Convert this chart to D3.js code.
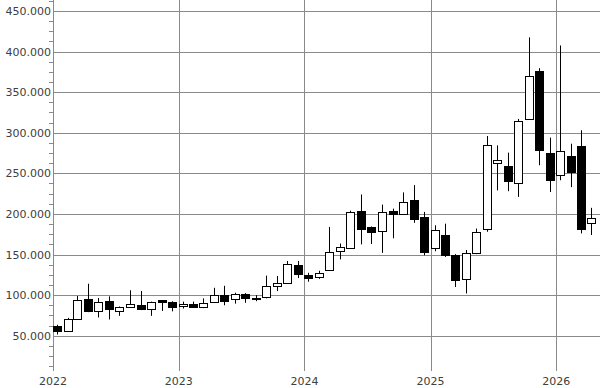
<!DOCTYPE html>
<html>
<head>
<meta charset="utf-8">
<script src="https://cdn.jsdelivr.net/npm/d3@7"></script>
<style>
  html, body { margin: 0; padding: 0; background: #fff; }
  svg { display: block; }
  text { font-family: "DejaVu Sans", Verdana, sans-serif; font-size: 11px; fill: #404040; }
</style>
</head>
<body>
<svg id="chart" width="600" height="388"></svg>
<script>
// ---- data ----
const months = ["2022-01","2022-02","2022-03","2022-04","2022-05","2022-06","2022-07","2022-08","2022-09","2022-10","2022-11","2022-12",
  "2023-01","2023-02","2023-03","2023-04","2023-05","2023-06","2023-07","2023-08","2023-09","2023-10","2023-11","2023-12",
  "2024-01","2024-02","2024-03","2024-04","2024-05","2024-06","2024-07","2024-08","2024-09","2024-10","2024-11","2024-12",
  "2025-01","2025-02","2025-03","2025-04","2025-05","2025-06","2025-07","2025-08","2025-09","2025-10","2025-11","2025-12",
  "2026-01","2026-02","2026-03","2026-04"];
const openV  = [62000,56000,70500,95000,80000,93000,80500,85500,87500,83500,93500,91000,
  87000,88500,85000,92000,100000,95000,101500,95000,98000,111000,115000,137000,
  125000,122500,131000,154500,158000,204000,183500,179000,204000,199500,217000,196500,
  157500,174000,149000,119500,152000,182000,262500,259000,238500,317500,375500,274500,
  247500,271500,283500,189000];
const highV  = [63500,72000,99000,114000,96500,98500,86000,106000,105000,92000,94000,92500,
  92000,92000,96000,109000,111500,103000,102500,100000,124000,123500,142000,142000,
  127500,130000,184000,163500,204000,224000,184500,211500,206500,226500,235500,202500,
  186000,188000,150500,155500,182000,296000,284500,275500,317000,417500,379500,294000,
  407500,286500,303000,207500];
const lowV   = [51500,55000,70000,79000,72500,70000,74500,85000,81500,74500,80500,80000,
  83500,84500,84000,91000,87500,89500,90500,92500,96000,105000,114500,121000,
  116500,120000,130000,144000,157000,162500,163000,152000,170000,199000,189000,149000,
  154000,147000,110000,102000,150500,178000,229000,228000,221000,316000,260000,227000,
  241500,233000,176000,174000];
const closeV = [56000,71000,94000,80000,91000,82500,85500,89000,83000,91000,92000,85500,
  88500,85500,90500,100000,92500,101500,96000,97000,111500,114500,138000,126500,
  120500,127000,153000,159500,202000,181000,178000,202500,199500,215000,193500,153000,
  180000,149000,118500,151500,178000,285500,267000,240500,315000,370000,279000,241500,
  277500,251500,182000,195000];
const yearTicks = ["2022","2023","2024","2025","2026"];
const yMajorTicks = [50000,100000,150000,200000,250000,300000,350000,400000,450000];

// ---- build ----
const parseM = d3.timeParse("%Y-%m");
const data = months.map((m, i) => ({ date: parseM(m), o: openV[i], h: highV[i], l: lowV[i], c: closeV[i] }));

const svg = d3.select("#chart");
const plotL = 53, plotR = 600, plotT = 0, plotB = 369;

const x = d3.scaleTime()
  .domain([new Date(2022, 0, 1), new Date(2026, 4, 8)])
  .range([plotL, plotR]);
const y = d3.scaleLinear().domain([9000, 463500]).range([plotB, plotT]);

const loc = d3.formatLocale({ decimal: ",", thousands: ".", grouping: [3], currency: ["", ""] });
const fmt = loc.format(",d");
const gridColor = "#8a8a8a";
const px = v => Math.round(v) + 0.5;

// horizontal gridlines
svg.append("g").selectAll("line").data(yMajorTicks).join("line")
  .attr("x1", plotL).attr("x2", plotR)
  .attr("y1", d => px(y(d))).attr("y2", d => px(y(d)))
  .attr("stroke", gridColor).attr("stroke-width", 1);

// vertical year lines
const yearDates = yearTicks.map(t => d3.timeParse("%Y")(t));
svg.append("g").selectAll("line").data(yearDates.slice(1)).join("line")
  .attr("x1", d => px(x(d))).attr("x2", d => px(x(d)))
  .attr("y1", plotT).attr("y2", plotB + 2)
  .attr("stroke", gridColor).attr("stroke-width", 1);

// y axis line + minor ticks
svg.append("line")
  .attr("x1", px(plotL)).attr("x2", px(plotL)).attr("y1", plotT).attr("y2", plotB + 2)
  .attr("stroke", gridColor);
const minor = d3.range(12500, 463500, 12500).filter(v => v % 50000 !== 0);
svg.append("g").selectAll("line").data(minor).join("line")
  .attr("x1", plotL - 4).attr("x2", plotL)
  .attr("y1", d => px(y(d))).attr("y2", d => px(y(d)))
  .attr("stroke", gridColor);

// y labels
svg.append("g").selectAll("text").data(yMajorTicks).join("text")
  .attr("x", plotL - 2).attr("y", d => y(d) + 4)
  .attr("text-anchor", "end")
  .text(d => fmt(d));

// x labels
svg.append("g").selectAll("text").data(yearDates).join("text")
  .attr("x", d => x(d)).attr("y", 385)
  .attr("text-anchor", "middle")
  .text(d => d3.timeFormat("%Y")(d));

// candles
const bw = 8;
const g = svg.append("g");
const cx = d => Math.round(x(d.date)) + 4.5;
g.selectAll("line.wick").data(data).join("line")
  .attr("class", "wick")
  .attr("x1", cx).attr("x2", cx)
  .attr("y1", d => y(d.h)).attr("y2", d => y(d.l))
  .attr("stroke", "#000").attr("stroke-width", 1);
g.selectAll("rect").data(data).join("rect")
  .attr("x", d => Math.round(x(d.date)) + 0.5)
  .attr("width", bw)
  .attr("y", d => Math.round(y(Math.max(d.o, d.c))) + 0.5)
  .attr("height", d => Math.max(1, Math.round(y(Math.min(d.o, d.c))) - Math.round(y(Math.max(d.o, d.c)))))
  .attr("fill", d => d.c >= d.o ? "#fff" : "#000")
  .attr("stroke", "#000").attr("stroke-width", 1);
</script>
</body>
</html>
